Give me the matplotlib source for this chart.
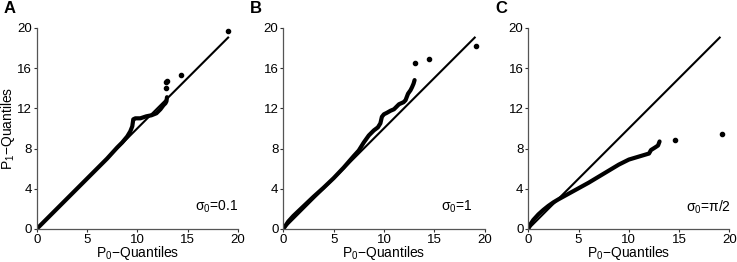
import matplotlib
matplotlib.use("Agg")
import matplotlib.pyplot as plt

plt.rcParams['font.family'] = ['Liberation Sans', 'DejaVu Sans']
plt.rcParams['mathtext.fontset'] = 'custom'
plt.rcParams['mathtext.rm'] = 'Liberation Sans'
plt.rcParams['mathtext.it'] = 'Liberation Sans'

# Panel A (sigma0 = 0.1)
a_curve_x = [0, 1, 2, 3, 4, 5, 6, 7, 8, 8.5, 9.0, 9.3, 9.5, 9.6, 9.8, 10.3, 10.6, 10.9,
             11.4, 11.9, 12.3, 12.6, 12.8, 12.9, 12.95]
a_curve_y = [0, 1, 2, 3, 4, 5, 6, 7, 8.1, 8.6, 9.2, 9.7, 10.2, 10.9, 11.0, 11.0, 11.1, 11.2,
             11.3, 11.5, 11.9, 12.3, 12.5, 12.7, 13.1]
a_tail_x = [12.85, 12.9, 12.95, 14.3, 19.0]
a_tail_y = [14.0, 14.6, 14.75, 15.35, 19.7]

# Panel B (sigma0 = 1)
b_curve_x = [0, 0.5, 1, 2, 3, 4, 5, 6, 7, 7.5, 8, 8.5, 9, 9.4, 9.65, 9.8, 10.0, 10.3,
             10.65, 11.0, 11.5, 11.95, 12.15, 12.4, 12.65, 12.8, 12.95, 13.05]
b_curve_y = [0, 0.75, 1.3, 2.25, 3.2, 4.1, 5.05, 6.1, 7.25, 7.8, 8.6, 9.3, 9.8, 10.1, 10.5,
             11.15, 11.4, 11.55, 11.75, 11.9, 12.4, 12.6, 12.8, 13.45, 13.8, 14.1, 14.45, 14.8]
b_tail_x = [13.05, 14.45, 19.2]
b_tail_y = [16.5, 16.85, 18.15]

# Panel C (sigma0 = pi/2)
c_curve_x = [0, 0.2, 0.5, 1, 1.5, 2, 2.5, 3, 4, 5, 6, 7, 8, 9, 10, 11, 11.5, 12,
             12.2, 12.6, 12.9, 13.05]
c_curve_y = [0, 0.45, 0.9, 1.45, 1.9, 2.3, 2.65, 2.95, 3.5, 4.05, 4.6, 5.2, 5.8, 6.4, 6.9,
             7.2, 7.35, 7.5, 7.85, 8.1, 8.3, 8.7]
c_tail_x = [14.55, 19.25]
c_tail_y = [8.85, 9.45]

ref_line = [0, 19.1]
panel_letters = ['A', 'B', 'C']
sigma_labels = ['$\\sigma_0$=0.1', '$\\sigma_0$=1', '$\\sigma_0$=$\\pi$/2']
xticks = [0, 5, 10, 15, 20]
yticks = [0, 4, 8, 12, 16, 20]

panels = [
    (a_curve_x, a_curve_y, a_tail_x, a_tail_y),
    (b_curve_x, b_curve_y, b_tail_x, b_tail_y),
    (c_curve_x, c_curve_y, c_tail_x, c_tail_y),
]
lefts = [0.0498, 0.3844, 0.7168]

fig = plt.figure(figsize=(7.37, 2.62), dpi=100)

for i, (cx, cy, tx, ty) in enumerate(panels):
    ax = fig.add_axes([lefts[i], 0.126, 0.273, 0.768])
    ax.plot(ref_line, ref_line, color='black', lw=1.5, solid_capstyle='butt')
    ax.plot(cx, cy, color='black', lw=3.0, solid_joinstyle='round', solid_capstyle='round')
    ax.plot(tx, ty, 'o', color='black', ms=3)

    ax.set_xlim(0, 20)
    ax.set_ylim(0, 20)
    ax.set_xticks(xticks)
    ax.set_yticks(yticks)
    ax.tick_params(labelsize=9.5, length=2.5, width=0.8, pad=1, colors='#333333',
                   labelcolor='black')
    for s in ['top', 'right']:
        ax.spines[s].set_visible(False)
    for s in ['left', 'bottom']:
        ax.spines[s].set_color('#555555')
        ax.spines[s].set_linewidth(0.9)
    ax.set_xlabel('P$_0$\u2212Quantiles', fontsize=10, labelpad=-1)
    if i == 0:
        ax.set_ylabel('P$_1$\u2212Quantiles', fontsize=10, labelpad=0)
    ax.text(15.7, 2.2, sigma_labels[i], fontsize=10, ha='left', va='center')
    fig.text(lefts[i] - 0.045, 0.995, panel_letters[i], fontsize=12, fontweight='bold',
             ha='left', va='top')

fig.savefig('out.png', dpi=100)
